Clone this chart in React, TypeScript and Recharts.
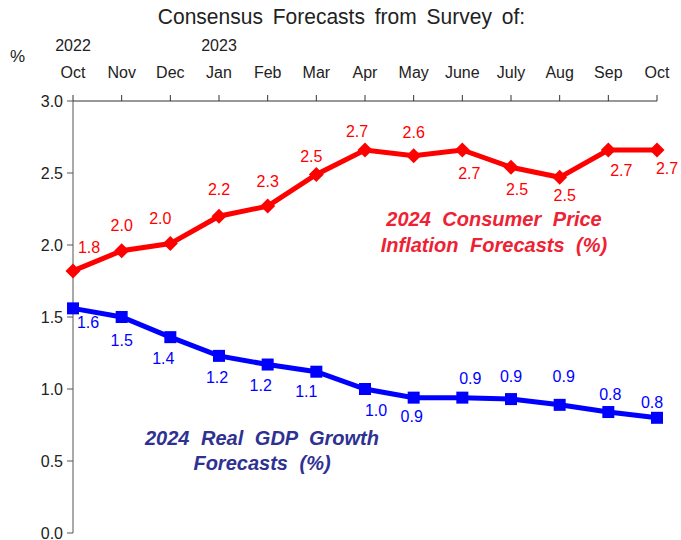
import React from "react";
import { LineChart, Line, XAxis, YAxis } from "recharts";

const months = ["Oct", "Nov", "Dec", "Jan", "Feb", "Mar", "Apr", "May", "June", "July", "Aug", "Sep", "Oct"];
const years = ["2022", "", "", "2023", "", "", "", "", "", "", "", "", ""];
const cpi = [1.82, 1.96, 2.01, 2.2, 2.27, 2.49, 2.66, 2.62, 2.66, 2.54, 2.47, 2.66, 2.66];
const gdp = [1.56, 1.5, 1.36, 1.23, 1.17, 1.12, 1.0, 0.94, 0.94, 0.93, 0.89, 0.84, 0.8];
const yTicks = [0, 0.5, 1, 1.5, 2, 2.5, 3];

// label nudges [dx, dy] from the point, in px
const cpiLabelOffset = [[16, -24], [0, -26], [-10, -26], [0, -27], [0, -25], [-5, -18], [-8, -19], [0, -24], [7, 23], [6, 22], [5, 18], [13, 20], [10, 18]];
const gdpLabelOffset = [[15, 14], [0, 23], [-7, 21], [-2, 21], [-7, 20], [-10, 19], [11, 21], [-2, 18], [8, -20], [0, -23], [4, -29], [2, -18], [-5, -16]];

const data = months.map((m, i) => ({ idx: i, month: m, year: years[i], cpi: cpi[i], gdp: gdp[i] }));

const FONT = "'Liberation Sans', Arial, Helvetica, sans-serif";
const RED = "#ff0000";
const BLUE = "#0000ff";

function MonthTick(props: any) {
  const { x, y, payload } = props;
  const i = payload.value as number;
  return (
    <g>
      <text x={x} y={y - 17} textAnchor="middle" fontSize={16} fill="#222" fontFamily={FONT}>{months[i]}</text>
      {years[i] && (
        <text x={x} y={y - 44} textAnchor="middle" fontSize={16} fill="#222" fontFamily={FONT}>{years[i]}</text>
      )}
    </g>
  );
}

function Diamond(props: any) {
  const { cx, cy } = props;
  if (cx == null || cy == null) return null;
  const r = 7.5;
  return <polygon points={`${cx},${cy - r} ${cx + r},${cy} ${cx},${cy + r} ${cx - r},${cy}`} fill={RED} />;
}

function Square(props: any) {
  const { cx, cy } = props;
  if (cx == null || cy == null) return null;
  const s = 12;
  return <rect x={cx - s / 2} y={cy - s / 2} width={s} height={s} fill={BLUE} />;
}

function makeLabel(offsets: number[][], color: string) {
  return (props: any) => {
    const { x, y, value, index } = props;
    const [dx, dy] = offsets[index] ?? [0, -20];
    return (
      <text x={x + dx} y={y + dy} dy={6} textAnchor="middle" fontSize={16} fill={color} fontFamily={FONT}>
        {(Math.round(Number(value) * 10) / 10).toFixed(1)}
      </text>
    );
  };
}

export default function App() {
  return (
    <div style={{ position: "absolute", left: 0, top: 0, width: 681, height: 540, background: "#fff", fontFamily: FONT, overflow: "hidden" }}>
      <div style={{ position: "absolute", left: 1, width: 681, top: 5, textAlign: "center", fontSize: 21, color: "#222", wordSpacing: 4, fontFamily: "'Liberation Sans Narrow', " + FONT, transform: "scaleY(1.05)" }}>
        Consensus Forecasts from Survey of:
      </div>
      <div style={{ position: "absolute", left: 10, top: 47, fontSize: 17, color: "#222" }}>%</div>
      <LineChart width={681} height={540} data={data} margin={{ top: 41, right: 24, bottom: 7, left: 33 }}>
        <XAxis
          dataKey="idx"
          orientation="top"
          height={60}
          tickSize={6}
          tickMargin={0}
          tick={<MonthTick />}
          stroke="#333"
          interval={0}
        />
        <YAxis
          domain={[0, 3]}
          ticks={yTicks}
          tickFormatter={(v: number) => v.toFixed(1)}
          width={40}
          tickSize={6}
          tickMargin={4}
          stroke="#555"
          tick={{ fontSize: 16, fill: "#222", fontFamily: FONT }}
          interval={0}
        />
        <Line
          dataKey="cpi"
          stroke={RED}
          strokeWidth={5}
          dot={<Diamond />}
          activeDot={false}
          label={makeLabel(cpiLabelOffset, RED)}
          isAnimationActive={false}
        />
        <Line
          dataKey="gdp"
          stroke={BLUE}
          strokeWidth={5}
          dot={<Square />}
          activeDot={false}
          label={makeLabel(gdpLabelOffset, BLUE)}
          isAnimationActive={false}
        />
      </LineChart>
      <div style={{ position: "absolute", left: 354, width: 280, top: 206, textAlign: "center", fontSize: 20, fontWeight: "bold", fontStyle: "italic", color: "#ee2233", lineHeight: "26px", wordSpacing: 6 }}>
        2024 Consumer Price<br />Inflation Forecasts (%)
      </div>
      <div style={{ position: "absolute", left: 117, width: 290, top: 426, textAlign: "center", fontSize: 20, fontWeight: "bold", fontStyle: "italic", color: "#2e3192", lineHeight: "25px", wordSpacing: 6 }}>
        2024 Real GDP Growth<br />Forecasts (%)
      </div>
    </div>
  );
}
